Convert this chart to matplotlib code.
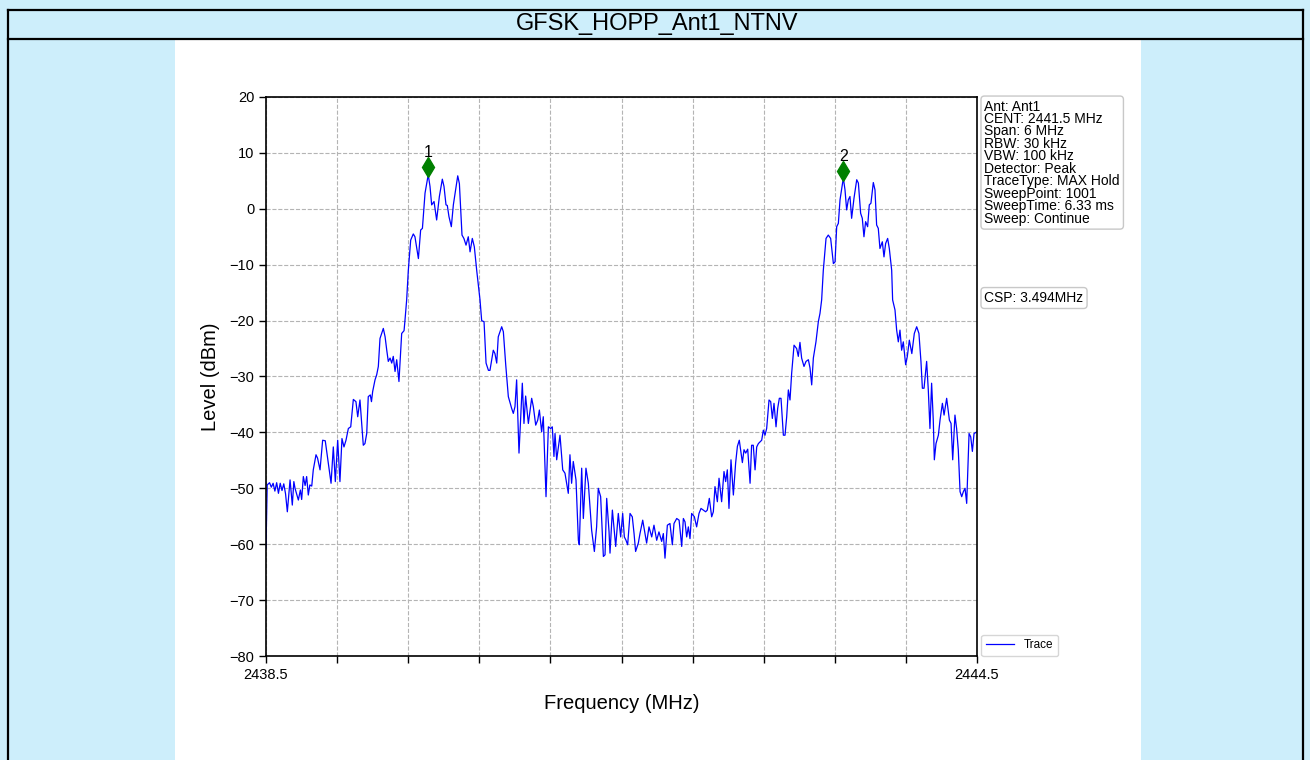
import matplotlib.pyplot as plt
from matplotlib.lines import Line2D
from matplotlib.patches import Rectangle

plt.rcParams['font.family'] = ['Liberation Sans', 'DejaVu Sans']

title = 'GFSK_HOPP_Ant1_NTNV'
settings = ['Ant: Ant1', 'CENT: 2441.5 MHz', 'Span: 6 MHz', 'RBW: 30 kHz',
            'VBW: 100 kHz', 'Detector: Peak', 'TraceType: MAX Hold',
            'SweepPoint: 1001', 'SweepTime: 6.33 ms', 'Sweep: Continue']
csp_text = 'CSP: 3.494MHz'

marker_names = ['1', '2']
marker_freq = [2439.870, 2443.372]
marker_level = [7.5, 6.8]

x_ticks = [2438.5, 2439.1, 2439.7, 2440.3, 2440.9, 2441.5,
           2442.1, 2442.7, 2443.3, 2443.9, 2444.5]
x_tick_labels = ['2438.5', '', '', '', '', '', '', '', '', '', '2444.5']
y_ticks = [-80, -70, -60, -50, -40, -30, -20, -10, 0, 10, 20]

# trace: (MHz, dBm)
trace_points = [
    (2438.500, -60.7), (2438.510, -49.4), (2438.530, -49.0), (2438.545, -49.8),
    (2438.560, -49.1), (2438.575, -50.5), (2438.590, -49.0), (2438.605, -50.9),
    (2438.620, -49.1), (2438.635, -50.4), (2438.650, -49.2), (2438.665, -51.0),
    (2438.680, -54.2), (2438.703, -48.5), (2438.722, -53.0), (2438.735, -48.8),
    (2438.745, -50.0), (2438.773, -52.1), (2438.790, -50.3), (2438.801, -52.0),
    (2438.815, -47.9), (2438.830, -49.5), (2438.843, -47.9), (2438.857, -51.2),
    (2438.870, -49.4), (2438.886, -49.6), (2438.899, -46.7), (2438.922, -44.0),
    (2438.935, -44.6), (2438.956, -46.7), (2438.978, -41.4), (2439.000, -41.5),
    (2439.026, -45.5), (2439.049, -49.1), (2439.068, -42.6), (2439.085, -48.8),
    (2439.105, -41.4), (2439.124, -48.8), (2439.141, -41.1), (2439.158, -42.6),
    (2439.175, -41.4), (2439.195, -39.3), (2439.215, -39.0), (2439.237, -34.1),
    (2439.259, -34.5), (2439.274, -37.2), (2439.293, -34.2), (2439.321, -42.3),
    (2439.335, -42.0), (2439.350, -40.2), (2439.363, -33.6), (2439.380, -33.3),
    (2439.390, -34.5), (2439.400, -32.7), (2439.420, -30.6), (2439.434, -29.7),
    (2439.448, -28.2), (2439.462, -23.2), (2439.490, -21.4), (2439.505, -22.9),
    (2439.519, -25.3), (2439.532, -27.3), (2439.547, -26.7), (2439.561, -27.6),
    (2439.574, -26.4), (2439.589, -29.1), (2439.603, -27.0), (2439.622, -30.9),
    (2439.645, -22.3), (2439.665, -21.8), (2439.673, -19.9), (2439.687, -16.3),
    # peak 1
    (2439.701, -11.0), (2439.721, -5.6), (2439.743, -4.5), (2439.757, -5.0),
    (2439.786, -8.9), (2439.805, -3.8), (2439.820, -3.5), (2439.842, 2.8),
    (2439.869, 6.1), (2439.884, 4.0), (2439.898, 0.7), (2439.918, 1.3),
    (2439.940, -2.0), (2439.963, 2.2), (2439.988, 5.3), (2440.002, 4.0),
    (2440.019, 0.7), (2440.030, 0.6), (2440.044, -1.4), (2440.064, -3.2),
    (2440.081, 0.7), (2440.118, 5.9), (2440.132, 4.5), (2440.154, -4.7),
    (2440.170, -5.3), (2440.188, -6.5), (2440.207, -5.0), (2440.222, -7.7),
    (2440.241, -5.3), (2440.258, -6.8), (2440.278, -11.0),
    (2440.306, -16.3), (2440.320, -20.0), (2440.340, -20.2), (2440.357, -27.6),
    (2440.377, -28.9), (2440.390, -28.9), (2440.418, -25.3), (2440.432, -25.9),
    (2440.447, -27.6), (2440.460, -22.9), (2440.489, -21.1), (2440.503, -22.0),
    (2440.523, -27.9),
    # valley
    (2440.545, -33.6), (2440.573, -35.7), (2440.587, -36.6), (2440.601, -35.4),
    (2440.615, -30.6), (2440.635, -43.7), (2440.663, -31.2), (2440.677, -38.4),
    (2440.691, -33.5), (2440.714, -38.4), (2440.742, -33.9), (2440.756, -35.4),
    (2440.776, -38.7), (2440.793, -37.8), (2440.807, -36.0), (2440.826, -39.9),
    (2440.840, -37.2), (2440.863, -51.5), (2440.883, -39.0), (2440.902, -39.3),
    (2440.916, -39.0), (2440.930, -44.3), (2440.939, -40.2), (2440.953, -44.9),
    (2440.981, -40.5), (2441.004, -46.7), (2441.023, -47.3), (2441.051, -50.9),
    (2441.065, -44.0), (2441.079, -49.1), (2441.093, -45.2), (2441.116, -48.5),
    (2441.136, -59.3), (2441.144, -60.1), (2441.164, -46.4), (2441.178, -55.4),
    (2441.200, -46.4), (2441.220, -49.1), (2441.248, -57.5), (2441.271, -61.3),
    (2441.290, -56.9), (2441.304, -50.0), (2441.324, -51.5), (2441.347, -62.2),
    (2441.361, -61.9), (2441.375, -51.8), (2441.395, -57.8), (2441.403, -61.6),
    (2441.423, -53.9), (2441.451, -60.4), (2441.473, -54.5), (2441.493, -58.7),
    (2441.510, -54.5), (2441.524, -58.7), (2441.538, -59.3), (2441.552, -60.1),
    (2441.572, -54.5), (2441.591, -55.1), (2441.606, -58.1), (2441.619, -61.3),
    (2441.642, -59.8), (2441.656, -58.1), (2441.679, -55.7), (2441.698, -58.1),
    (2441.712, -59.8), (2441.732, -56.9), (2441.755, -58.7), (2441.774, -56.6),
    (2441.797, -59.3), (2441.816, -57.8), (2441.839, -59.5), (2441.853, -58.1),
    (2441.867, -62.5), (2441.887, -56.6), (2441.909, -56.3), (2441.929, -60.1),
    (2441.943, -56.3), (2441.966, -55.4), (2441.986, -55.7), (2442.008, -60.4),
    (2442.022, -55.4), (2442.036, -56.0), (2442.050, -58.7), (2442.064, -56.9),
    (2442.078, -59.0), (2442.092, -54.5), (2442.115, -55.1), (2442.134, -56.9),
    (2442.154, -54.5), (2442.171, -53.6), (2442.190, -53.9), (2442.210, -54.2),
    (2442.224, -53.9), (2442.241, -51.8), (2442.261, -55.1), (2442.275, -54.2),
    (2442.289, -49.7), (2442.309, -52.4), (2442.323, -48.2),
    (2442.345, -52.4), (2442.365, -47.0), (2442.379, -48.8), (2442.393, -46.7),
    (2442.407, -53.6), (2442.424, -44.9), (2442.444, -51.2), (2442.463, -45.5),
    (2442.478, -42.5), (2442.494, -41.4), (2442.520, -45.4), (2442.534, -43.1),
    (2442.548, -43.7), (2442.565, -43.0), (2442.585, -49.1), (2442.598, -42.3),
    (2442.612, -42.3), (2442.627, -46.7), (2442.641, -42.6), (2442.655, -42.0),
    (2442.669, -41.7), (2442.683, -41.4), (2442.697, -39.6), (2442.711, -40.5),
    (2442.725, -39.3), (2442.745, -34.2), (2442.759, -34.5), (2442.773, -37.5),
    (2442.787, -34.8), (2442.804, -39.0), (2442.818, -35.7), (2442.832, -33.9),
    (2442.846, -33.9), (2442.866, -40.5), (2442.880, -40.5), (2442.894, -37.2),
    (2442.908, -32.4), (2442.922, -34.2), (2442.936, -29.4), (2442.956, -24.4),
    (2442.978, -25.0), (2442.992, -26.4), (2443.006, -23.9), (2443.020, -26.7),
    (2443.040, -28.2), (2443.057, -27.3), (2443.077, -27.0), (2443.091, -28.5),
    (2443.105, -31.5), (2443.119, -26.7), (2443.141, -23.8), (2443.161, -20.2),
    (2443.175, -18.7), (2443.189, -16.3),
    # peak 2
    (2443.203, -11.0), (2443.226, -5.3), (2443.245, -4.7), (2443.265, -5.3),
    (2443.288, -9.8), (2443.302, -9.5), (2443.316, -3.2), (2443.330, -2.6),
    (2443.344, 1.6), (2443.372, 5.5), (2443.386, 3.4), (2443.400, -0.2),
    (2443.414, 1.6), (2443.428, 2.2), (2443.442, -1.7), (2443.462, 1.9),
    (2443.485, 5.2), (2443.499, 4.6), (2443.518, -0.8), (2443.532, -1.7),
    (2443.546, -5.0), (2443.560, -2.3), (2443.577, -3.2), (2443.591, 0.7),
    (2443.605, 1.0), (2443.625, 4.7), (2443.639, 3.4), (2443.653, -2.9),
    (2443.667, -3.5), (2443.681, -7.1), (2443.701, -5.9), (2443.715, -8.6),
    (2443.729, -6.2), (2443.746, -5.3), (2443.760, -7.1), (2443.780, -11.0),
    (2443.788, -16.3), (2443.808, -18.1), (2443.822, -21.7), (2443.836, -23.8),
    (2443.850, -21.7), (2443.864, -25.3), (2443.878, -23.8), (2443.898, -27.9),
    (2443.912, -26.4), (2443.929, -23.5), (2443.950, -25.9), (2443.971, -22.3),
    (2443.991, -21.1), (2444.010, -22.3), (2444.027, -27.3), (2444.039, -32.1),
    (2444.053, -32.1), (2444.075, -27.3), (2444.089, -32.4), (2444.103, -39.3),
    (2444.117, -31.2), (2444.131, -37.8), (2444.140, -44.9), (2444.154, -42.0),
    (2444.174, -40.5), (2444.188, -37.8), (2444.208, -34.8), (2444.222, -36.9),
    (2444.244, -33.9), (2444.267, -37.8), (2444.281, -38.4), (2444.295, -44.9),
    (2444.314, -36.9), (2444.328, -39.3), (2444.342, -43.1), (2444.357, -50.6),
    (2444.371, -51.5), (2444.385, -50.6), (2444.399, -50.0), (2444.413, -52.7),
    (2444.433, -40.2), (2444.447, -40.8), (2444.461, -43.4), (2444.475, -40.2),
    (2444.500, -39.9),
]
freq_mhz = [p[0] for p in trace_points]
level_dbm = [p[1] for p in trace_points]

W, H = 1310, 760
fig = plt.figure(figsize=(W / 100, H / 100), dpi=100)
fig.patch.set_facecolor('#cdeefb')

# white page behind the chart
fig.add_artist(Rectangle((175 / W, 0), 966 / W, 720 / H, transform=fig.transFigure,
                         facecolor='white', edgecolor='none', zorder=0))
# table borders
for xs, ys in [([8, 8], [10, 760]), ([1303, 1303], [10, 760]),
               ([8, 1303], [10, 10]), ([8, 1303], [39, 39])]:
    fig.add_artist(Line2D([x / W for x in xs], [1 - y / H for y in ys],
                          transform=fig.transFigure, color='black', lw=1.6))
fig.text(657 / W, 1 - 24 / H, title, ha='center', va='center', fontsize=17)

ax = fig.add_axes([266 / W, 104 / H, 711 / W, 559 / H])
ax.plot(freq_mhz, level_dbm, color='blue', lw=0.9, label='Trace')
ax.plot(marker_freq, marker_level, 'd', color='green', ms=10.5, ls='none', zorder=5)
for name, f, lv in zip(marker_names, marker_freq, marker_level):
    ax.annotate(name, (f, lv), xytext=(0, 5), textcoords='offset points',
                ha='center', va='bottom', fontsize=11.5)

ax.set_xlim(2438.5, 2444.5)
ax.set_ylim(-80, 20)
ax.set_xticks(x_ticks)
ax.set_xticklabels(x_tick_labels)
ax.set_yticks(y_ticks)
ax.tick_params(labelsize=10.5, length=5, width=1)
ax.grid(True, ls='--', color='#b4b4b4', lw=0.8)
for s in ax.spines.values():
    s.set_linewidth(1.2)
ax.set_xlabel('Frequency (MHz)', fontsize=14.5, labelpad=9)
ax.set_ylabel('Level (dBm)', fontsize=14.5, labelpad=7)

box = dict(boxstyle='round,pad=0.25', facecolor='white', edgecolor='#c8c8c8')
ax.text(1.0105, 0.9955, '\n'.join(settings), transform=ax.transAxes, va='top',
        ha='left', fontsize=10, linespacing=0.86, bbox=box)
ax.text(1.0105, 0.6404, csp_text, transform=ax.transAxes, va='center',
        ha='left', fontsize=10, bbox=box)
ax.legend(loc='lower left', bbox_to_anchor=(1.006, 0.0), fontsize=8.5,
          borderaxespad=0, handlelength=2.4)

fig.savefig('out.png', dpi=100, facecolor=fig.get_facecolor())
